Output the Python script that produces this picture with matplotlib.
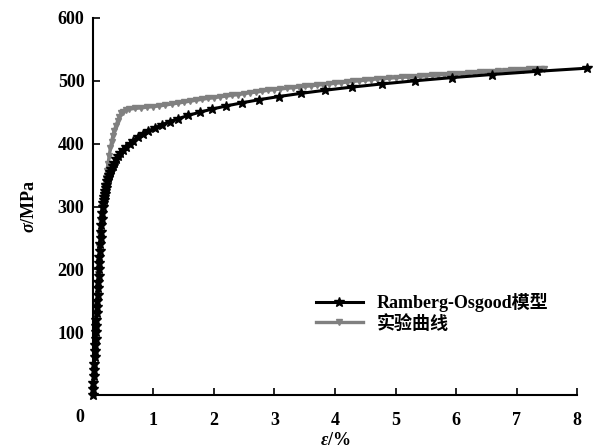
import matplotlib
matplotlib.use("Agg")
import matplotlib.pyplot as plt

plt.rcParams['font.family'] = ['Liberation Serif', 'Noto Sans CJK SC']
plt.rcParams['font.weight'] = 'bold'
plt.rcParams['axes.labelweight'] = 'bold'
plt.rcParams['mathtext.fontset'] = 'custom'
plt.rcParams['mathtext.it'] = 'Liberation Serif:italic:bold'
plt.rcParams['mathtext.rm'] = 'Liberation Serif:bold'

# Ramberg-Osgood model (strain %, stress MPa)
ro_stress = [0, 10, 20, 30, 40, 50, 60, 70, 80, 90, 100, 110, 120, 130, 140,
             150, 160, 170, 180, 190, 200, 210, 220, 230, 240, 250, 260, 270,
             280, 290, 300, 305, 310, 315, 320, 325, 330, 335, 340, 345, 350,
             355, 360, 365, 370, 375, 380, 385, 390, 395, 400, 405, 410, 415,
             420, 425, 430, 435, 440, 445, 450, 455, 460, 465, 470, 475, 480,
             485, 490, 495, 500, 505, 510, 515, 520]
ro_strain = [0, 0.005, 0.010, 0.015, 0.020, 0.025, 0.030, 0.035, 0.040, 0.045,
             0.050, 0.055, 0.060, 0.065, 0.070, 0.075, 0.080, 0.085, 0.090,
             0.095, 0.100, 0.105, 0.110, 0.116, 0.121, 0.127, 0.133, 0.139,
             0.147, 0.155, 0.166, 0.172, 0.178, 0.185, 0.193, 0.202, 0.211,
             0.222, 0.235, 0.249, 0.265, 0.283, 0.304, 0.327, 0.354, 0.384,
             0.418, 0.457, 0.501, 0.551, 0.608, 0.671, 0.743, 0.825, 0.917,
             1.021, 1.138, 1.268, 1.415, 1.580, 1.766, 1.972, 2.205, 2.466,
             2.753, 3.077, 3.438, 3.838, 4.282, 4.777, 5.322, 5.925, 6.593,
             7.332, 8.158]

# experimental curve
exp_strain = [0, 0.01, 0.02, 0.03, 0.04, 0.05, 0.06, 0.07, 0.08, 0.09, 0.10,
              0.11, 0.12, 0.13, 0.15, 0.17, 0.19, 0.21, 0.23, 0.25, 0.27,
              0.29, 0.31, 0.33, 0.35, 0.38, 0.41, 0.44, 0.47, 0.50, 0.55,
              0.6, 0.7, 0.8, 0.9, 1.0, 1.1, 1.2, 1.3, 1.4, 1.5, 1.6, 1.7, 1.8,
              1.9, 2.0, 2.1, 2.2, 2.3, 2.4, 2.5, 2.6, 2.7, 2.8, 2.9, 3.0, 3.1,
              3.2, 3.3, 3.4, 3.5, 3.6, 3.7, 3.8, 3.9, 4.0, 4.1, 4.2, 4.3, 4.4,
              4.5, 4.6, 4.7, 4.8, 4.9, 5.0, 5.1, 5.2, 5.3, 5.4, 5.5, 5.6, 5.7,
              5.8, 5.9, 6.0, 6.1, 6.2, 6.3, 6.4, 6.5, 6.6, 6.7, 6.8, 6.9, 7.0,
              7.1, 7.2, 7.3, 7.4, 7.45]
exp_stress = [0, 22, 44, 66, 85, 105, 125, 148, 170, 192, 212, 235, 255, 275,
              300, 318, 332, 345, 357, 367, 380, 393, 403, 412, 420, 428, 436,
              443, 448, 451, 453, 455, 456, 457, 458, 459, 460, 461.5, 463,
              464.5, 466, 467.5, 469, 470.5, 472, 473, 474.5, 475.5, 477, 478,
              479.5, 481, 482, 483.5, 485, 486, 487, 488, 489, 490, 491, 492,
              493, 494, 495, 496, 497, 498, 499, 500, 501, 502, 503, 503.5,
              504, 505, 505.5, 506, 506.5, 507, 508, 508.5, 509, 510, 510.5,
              511, 511.5, 512, 513, 513.5, 514, 514.5, 515, 516, 516.5, 517,
              517.5, 518, 518.5, 519, 519]

fig = plt.figure(figsize=(5.95, 4.48), dpi=100)
ax = fig.add_axes([0.156, 0.118, 0.814, 0.842])

ax.plot(exp_strain, exp_stress, color='#808080', linewidth=2.4,
        marker='v', markersize=4.5, label='实验曲线', zorder=2)
ax.plot(ro_strain, ro_stress, color='black', linewidth=2.2,
        marker='*', markersize=7.5, label='Ramberg-Osgood模型', zorder=3,
        clip_on=False)

ax.set_xlim(0, 8)
ax.set_ylim(0, 600)
ax.set_xticks(range(1, 9))
ax.set_yticks([100, 200, 300, 400, 500, 600])
ax.spines['top'].set_visible(False)
ax.spines['right'].set_visible(False)
ax.spines['left'].set_linewidth(1.5)
ax.spines['bottom'].set_linewidth(1.5)
ax.tick_params(direction='in', length=5, width=1.2, labelsize=13, pad=6)
ax.tick_params(axis='x', pad=12)
ax.text(-0.22, -22, '0', fontsize=13, ha='center', va='top')

ax.set_xlabel(r'$ε$/%', fontsize=13, fontweight='bold', labelpad=2)
ax.set_ylabel(r'$σ$/MPa', fontsize=13, fontweight='bold', labelpad=14)

handles, labels = ax.get_legend_handles_labels()
ax.legend(handles[::-1], labels[::-1], loc='upper left',
          bbox_to_anchor=(0.445, 0.29), frameon=False, fontsize=13,
          handlelength=2.6, labelspacing=0.15, borderaxespad=0)

fig.savefig('out.png', dpi=100)
